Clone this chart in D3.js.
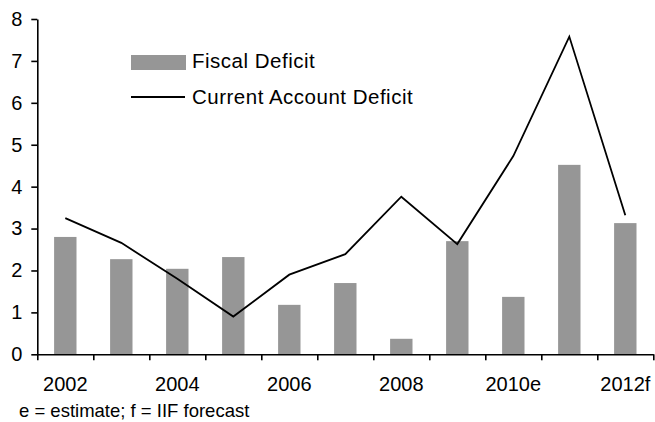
<!DOCTYPE html>
<html>
<head>
<meta charset="utf-8">
<script src="https://cdn.jsdelivr.net/npm/d3@7"></script>
<style>
  html, body { margin: 0; padding: 0; background: #fff; }
  svg { display: block; font-family: "Liberation Sans", Arial, sans-serif; }
</style>
</head>
<body>
<svg id="chart" width="655" height="422"></svg>
<script>
// Years on the category axis
const years = ["2002", "2003", "2004", "2005", "2006", "2007", "2008", "2009", "2010", "2011", "2012"];
// Axis labels (every other year is shown)
const yearLabels = ["2002", "", "2004", "", "2006", "", "2008", "", "2010e", "", "2012f"];
// Fiscal deficit, % of GDP (bars)
const fiscalDeficit = [2.80, 2.27, 2.04, 2.32, 1.18, 1.70, 0.37, 2.70, 1.37, 4.52, 3.13];
// Current account deficit, % of GDP (line)
const currentAccountDeficit = [3.25, 2.66, 1.80, 0.90, 1.90, 2.39, 3.76, 2.63, 4.73, 7.58, 3.32];
// Value-axis ticks
const yTicks = [0, 1, 2, 3, 4, 5, 6, 7, 8];
const seriesNames = ["Fiscal Deficit", "Current Account Deficit"];
const footnote = "e = estimate; f = IIF forecast";

const svg = d3.select("#chart");
const plotLeft = 37.3, plotRight = 653.3, plotTop = 19, plotBottom = 354.3;
const barColor = "#969696";

const x = d3.scaleBand().domain(years).range([plotLeft, plotRight])
  .paddingInner(0.6).paddingOuter(0.3);
const xEdge = d3.scaleLinear().domain([0, years.length]).range([plotLeft, plotRight]);
const y = d3.scaleLinear().domain([0, 8]).range([plotBottom, plotTop]);

// Bars
svg.append("g").selectAll("rect")
  .data(fiscalDeficit)
  .join("rect")
  .attr("x", (d, i) => x(years[i]))
  .attr("width", x.bandwidth())
  .attr("y", d => y(d))
  .attr("height", d => y(0) - y(d))
  .attr("fill", barColor);

// Line
const line = d3.line()
  .x((d, i) => x(years[i]) + x.bandwidth() / 2)
  .y(d => y(d));
svg.append("path")
  .datum(currentAccountDeficit)
  .attr("d", line)
  .attr("fill", "none")
  .attr("stroke", "#000")
  .attr("stroke-width", 1.8)
  .attr("stroke-linejoin", "miter");

// Y axis
const yAxis = svg.append("g")
  .attr("transform", `translate(${plotLeft},0)`)
  .call(d3.axisLeft(y).tickValues(yTicks).tickFormat(d3.format("d")).tickSize(6).tickSizeOuter(0).tickPadding(9));
yAxis.selectAll("text").attr("font-size", 20).attr("fill", "#000").attr("font-family", "Liberation Sans, Arial, sans-serif");
yAxis.selectAll("line, path").attr("stroke", "#000").attr("stroke-width", 1.6);

// X axis: tick marks at category edges
const xTickAxis = svg.append("g")
  .attr("transform", `translate(0,${plotBottom})`)
  .call(d3.axisBottom(xEdge).tickValues(d3.range(years.length + 1)).tickFormat("").tickSize(6).tickSizeOuter(0));
xTickAxis.selectAll("line, path").attr("stroke", "#000").attr("stroke-width", 1.6);

// X axis: labels at category centres
const xLabelAxis = svg.append("g")
  .attr("transform", `translate(0,${plotBottom})`)
  .call(d3.axisBottom(x).tickFormat((d, i) => yearLabels[i]).tickSize(0).tickPadding(23));
xLabelAxis.select(".domain").remove();
xLabelAxis.selectAll("text").attr("font-size", 20).attr("fill", "#000").attr("font-family", "Liberation Sans, Arial, sans-serif");

// Legend
const legend = svg.append("g");
legend.append("rect").attr("x", 131).attr("y", 55).attr("width", 55).attr("height", 15).attr("fill", barColor);
legend.append("text").attr("x", 192).attr("y", 68).attr("font-size", 20.5).attr("letter-spacing", 0.5).text(seriesNames[0]);
legend.append("line").attr("x1", 131).attr("x2", 185).attr("y1", 97).attr("y2", 97)
  .attr("stroke", "#000").attr("stroke-width", 1.8);
legend.append("text").attr("x", 192).attr("y", 103.5).attr("font-size", 20.5).attr("letter-spacing", 0.5).text(seriesNames[1]);

// Footnote
svg.append("text").attr("x", 19).attr("y", 416.5).attr("font-size", 18.5).text(footnote);
</script>
</body>
</html>
